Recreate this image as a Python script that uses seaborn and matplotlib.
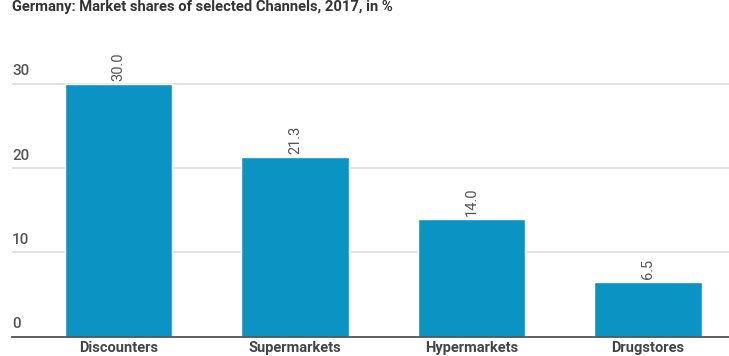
import matplotlib
matplotlib.use("Agg")
import matplotlib.pyplot as plt
import seaborn as sns
import pandas as pd

categories = ["Discounters", "Supermarkets", "Hypermarkets", "Drugstores"]
values = [30.0, 21.3, 14.0, 6.5]
yticks = [0, 10, 20, 30]
title = "Germany: Market shares of selected Channels, 2017, in %"

sns.set_theme(style="white")
plt.rcParams["font.family"] = ["Roboto", "DejaVu Sans"]

W, H = 729, 356
fig = plt.figure(figsize=(W / 100, H / 100), dpi=100)
left, right = 12, 729
bottom_px, top_px = 336.5, 33.5
ax = fig.add_axes([left / W, (H - bottom_px) / H, (right - left) / W, (bottom_px - top_px) / H])

df = pd.DataFrame({"channel": categories, "share": values})
sns.barplot(data=df, x="channel", y="share", color="#0a93c3", saturation=1, width=0.61, ax=ax)

ax.set_xlim(-0.603, 3.459)
ax.set_ylim(0, 36)
ax.set_yticks(yticks)
ax.set_yticklabels([])
ax.tick_params(axis="both", length=0)
for s in ["top", "right", "left"]:
    ax.spines[s].set_visible(False)
ax.spines["bottom"].set_color("#555555")
ax.spines["bottom"].set_linewidth(1.3)
ax.yaxis.grid(True, color="#d9d9d9", linewidth=1.1)
ax.set_axisbelow(True)
ax.set_xlabel("")
ax.set_ylabel("")

for t in yticks:
    ax.annotate(f"{t}", xy=(0, t), xycoords=("axes fraction", "data"), xytext=(0, 4),
                textcoords="offset points", ha="left", va="bottom", fontsize=11,
                color="#555555", fontweight="medium")

ax.set_xticks(range(len(categories)))
ax.set_xticklabels(categories, fontsize=10.5, fontweight="bold", color="#444444")
ax.tick_params(axis="x", pad=3)

for i, v in enumerate(values):
    ax.annotate(f"{v:.1f}", xy=(i, v), xytext=(0, 2), textcoords="offset points",
                rotation=90, ha="center", va="bottom", fontsize=10.5, color="#555555")

fig.text(12 / W, (H - 11) / H, title, fontsize=10.6, fontweight="bold", color="#333333",
         ha="left", va="baseline")

fig.savefig("out.png", dpi=100)
